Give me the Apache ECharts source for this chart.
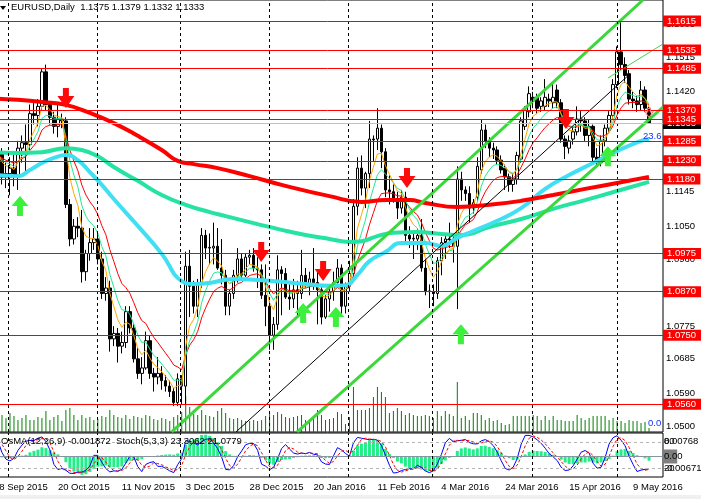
<!DOCTYPE html>
<html lang="en">
<head>
<meta charset="utf-8">
<title>EURUSD,Daily</title>
<script src="https://cdn.jsdelivr.net/npm/echarts@6/dist/echarts.min.js"></script>
<style>
    html, body { margin: 0; padding: 0; background: #fff; overflow: hidden; }
    /* the first bars sit half off the left edge, as in the terminal */
    #chart { width: 709px; height: 499px; margin-left: -8px; }
</style>
</head>
<body>
<div id="chart"></div>
<script>
// ---- data ----
var dateTicks = ['28 Sep 2015', '20 Oct 2015', '11 Nov 2015', '3 Dec 2015', '28 Dec 2015', '20 Jan 2016',
    '11 Feb 2016', '4 Mar 2016', '24 Mar 2016', '15 Apr 2016', '9 May 2016'];
var tickStep = 16;      // one date label every 16 bars
var slotCount = 168;    // bars + empty shift on the right

var priceTicks = [1.0500, 1.0590, 1.0685, 1.0775, 1.0960, 1.1050, 1.1145, 1.1420, 1.1515, 1.1605];
var levels = [1.1615, 1.1535, 1.1485, 1.1370, 1.1345, 1.1285, 1.1230, 1.1180, 1.0975, 1.0870, 1.0750, 1.0560];
var lastPrice = 1.1333;

// daily bars: [open, close, low, high]
var ohlc = [
    [1.1195, 1.1245, 1.1185, 1.1255], [1.1245, 1.1255, 1.1215, 1.1275], [1.1255, 1.1185, 1.1165, 1.1265],
    [1.1185, 1.1195, 1.1155, 1.1225], [1.1195, 1.1210, 1.1135, 1.1240], [1.1210, 1.1190, 1.1160, 1.1250],
    [1.1190, 1.1265, 1.1150, 1.1285], [1.1265, 1.1280, 1.1225, 1.1300], [1.1280, 1.1275, 1.1200, 1.1330],
    [1.1275, 1.1360, 1.1260, 1.1385], [1.1360, 1.1355, 1.1330, 1.1390], [1.1355, 1.1380, 1.1325, 1.1400],
    [1.1380, 1.1475, 1.1370, 1.1485], [1.1475, 1.1385, 1.1370, 1.1495], [1.1385, 1.1350, 1.1330, 1.1390],
    [1.1350, 1.1325, 1.1305, 1.1365], [1.1325, 1.1345, 1.1295, 1.1385], [1.1345, 1.1340, 1.1320, 1.1360],
    [1.1340, 1.1110, 1.1100, 1.1350], [1.1110, 1.1015, 1.0995, 1.1125], [1.1015, 1.1050, 1.1000, 1.1070],
    [1.1050, 1.1045, 1.1020, 1.1075], [1.1045, 1.0925, 1.0895, 1.1095], [1.0925, 1.0975, 1.0900, 1.0985],
    [1.0975, 1.1005, 1.0955, 1.1045], [1.1005, 1.1015, 1.0985, 1.1045], [1.1015, 1.0960, 1.0945, 1.1030],
    [1.0960, 1.0865, 1.0850, 1.0980], [1.0865, 1.0880, 1.0845, 1.0910], [1.0880, 1.0740, 1.0705, 1.0900],
    [1.0740, 1.0755, 1.0720, 1.0775], [1.0755, 1.0720, 1.0675, 1.0770], [1.0720, 1.0730, 1.0700, 1.0760],
    [1.0730, 1.0815, 1.0715, 1.0830], [1.0815, 1.0770, 1.0755, 1.0830], [1.0770, 1.0685, 1.0675, 1.0780],
    [1.0685, 1.0645, 1.0630, 1.0715], [1.0645, 1.0660, 1.0615, 1.0690], [1.0660, 1.0735, 1.0655, 1.0760],
    [1.0735, 1.0645, 1.0630, 1.0750], [1.0645, 1.0635, 1.0595, 1.0660], [1.0635, 1.0645, 1.0615, 1.0690],
    [1.0645, 1.0625, 1.0600, 1.0665], [1.0625, 1.0610, 1.0595, 1.0640], [1.0610, 1.0595, 1.0580, 1.0625],
    [1.0595, 1.0565, 1.0555, 1.0605], [1.0565, 1.0630, 1.0555, 1.0645], [1.0630, 1.0610, 1.0560, 1.0640],
    [1.0610, 1.0940, 1.0560, 1.0980], [1.0940, 1.0885, 1.0800, 1.0985], [1.0885, 1.0830, 1.0810, 1.0900],
    [1.0830, 1.0895, 1.0800, 1.0905], [1.0895, 1.1025, 1.0880, 1.1045], [1.1025, 1.0990, 1.0960, 1.1040],
    [1.0990, 1.0992, 1.0945, 1.1030], [1.0990, 1.0995, 1.0945, 1.1060], [1.0995, 1.0935, 1.0930, 1.1045],
    [1.0935, 1.0915, 1.0890, 1.1015], [1.0915, 1.0830, 1.0805, 1.0930], [1.0830, 1.0865, 1.0805, 1.0875],
    [1.0865, 1.0915, 1.0850, 1.0930], [1.0915, 1.0960, 1.0895, 1.0990], [1.0960, 1.0915, 1.0900, 1.0975],
    [1.0915, 1.0965, 1.0910, 1.0975], [1.0965, 1.0970, 1.0945, 1.0985], [1.0970, 1.0935, 1.0925, 1.0990],
    [1.0935, 1.0930, 1.0880, 1.0965], [1.0930, 1.0860, 1.0850, 1.0945], [1.0860, 1.0830, 1.0775, 1.0945],
    [1.0830, 1.0750, 1.0710, 1.0845], [1.0750, 1.0780, 1.0710, 1.0800], [1.0780, 1.0930, 1.0765, 1.0970],
    [1.0930, 1.0920, 1.0805, 1.0940], [1.0920, 1.0855, 1.0850, 1.0935], [1.0855, 1.0850, 1.0820, 1.0890],
    [1.0850, 1.0875, 1.0825, 1.0905], [1.0875, 1.0865, 1.0800, 1.0900], [1.0865, 1.0915, 1.0850, 1.0985],
    [1.0915, 1.0890, 1.0880, 1.0935], [1.0890, 1.0905, 1.0860, 1.0925], [1.0905, 1.0895, 1.0875, 1.0990],
    [1.0895, 1.0875, 1.0780, 1.0930], [1.0875, 1.0800, 1.0780, 1.0885], [1.0800, 1.0850, 1.0795, 1.0860],
    [1.0850, 1.0870, 1.0815, 1.0880], [1.0870, 1.0895, 1.0845, 1.0925], [1.0895, 1.0935, 1.0880, 1.0960],
    [1.0935, 1.0830, 1.0810, 1.0945], [1.0830, 1.0885, 1.0810, 1.0895], [1.0885, 1.0920, 1.0870, 1.0955],
    [1.0920, 1.1105, 1.0910, 1.1125], [1.1105, 1.1210, 1.1080, 1.1240], [1.1210, 1.1155, 1.1135, 1.1245],
    [1.1155, 1.1195, 1.1100, 1.1200], [1.1195, 1.1290, 1.1155, 1.1340], [1.1290, 1.1288, 1.1230, 1.1300],
    [1.1290, 1.1320, 1.1260, 1.1375], [1.1320, 1.1255, 1.1210, 1.1330], [1.1255, 1.1150, 1.1130, 1.1265],
    [1.1150, 1.1145, 1.1110, 1.1190], [1.1145, 1.1125, 1.1115, 1.1165], [1.1125, 1.1100, 1.1070, 1.1145],
    [1.1100, 1.1130, 1.1085, 1.1150], [1.1130, 1.1025, 1.1005, 1.1145], [1.1025, 1.1015, 1.0990, 1.1050],
    [1.1015, 1.1017, 1.0960, 1.1035], [1.1015, 1.1025, 1.0985, 1.1045], [1.1025, 1.0935, 1.0925, 1.1070],
    [1.0935, 1.0870, 1.0860, 1.0960], [1.0870, 1.0872, 1.0825, 1.0890], [1.0870, 1.0865, 1.0830, 1.0890],
    [1.0865, 1.0955, 1.0850, 1.0965], [1.0955, 1.1005, 1.0915, 1.1020], [1.1005, 1.1015, 1.0960, 1.1030],
    [1.1015, 1.1013, 1.0990, 1.1060], [1.1015, 1.0995, 1.0950, 1.1030], [1.0995, 1.1180, 1.0822, 1.1215],
    [1.1180, 1.1150, 1.1120, 1.1200], [1.1150, 1.1140, 1.1120, 1.1160], [1.1140, 1.1100, 1.1060, 1.1160],
    [1.1100, 1.1115, 1.1085, 1.1125], [1.1130, 1.1215, 1.1120, 1.1240], [1.1205, 1.1315, 1.1195, 1.1343],
    [1.1315, 1.1285, 1.1265, 1.1330], [1.1285, 1.1265, 1.1240, 1.1295], [1.1265, 1.1260, 1.1235, 1.1280],
    [1.1260, 1.1232, 1.1220, 1.1270], [1.1232, 1.1205, 1.1195, 1.1245], [1.1210, 1.1186, 1.1150, 1.1220],
    [1.1186, 1.1165, 1.1145, 1.1195], [1.1165, 1.1180, 1.1145, 1.1195], [1.1180, 1.1245, 1.1165, 1.1255],
    [1.1235, 1.1340, 1.1225, 1.1350], [1.1325, 1.1370, 1.1315, 1.1380], [1.1365, 1.1415, 1.1350, 1.1435],
    [1.1405, 1.1395, 1.1375, 1.1420], [1.1405, 1.1375, 1.1360, 1.1415], [1.1380, 1.1395, 1.1365, 1.1405],
    [1.1380, 1.1405, 1.1370, 1.1455], [1.1400, 1.1395, 1.1378, 1.1415], [1.1390, 1.1405, 1.1375, 1.1447],
    [1.1425, 1.1390, 1.1375, 1.1440], [1.1390, 1.1290, 1.1280, 1.1400], [1.1290, 1.1270, 1.1235, 1.1300],
    [1.1265, 1.1285, 1.1250, 1.1300], [1.1290, 1.1310, 1.1275, 1.1325], [1.1310, 1.1345, 1.1300, 1.1380],
    [1.1345, 1.1340, 1.1310, 1.1370], [1.1340, 1.1300, 1.1285, 1.1350], [1.1300, 1.1325, 1.1270, 1.1345],
    [1.1325, 1.1240, 1.1220, 1.1330], [1.1240, 1.1225, 1.1215, 1.1265], [1.1225, 1.1285, 1.1215, 1.1300],
    [1.1285, 1.1320, 1.1270, 1.1330], [1.1320, 1.1355, 1.1305, 1.1370], [1.1355, 1.1440, 1.1345, 1.1455],
    [1.1440, 1.1530, 1.1430, 1.1545], [1.1530, 1.1495, 1.1480, 1.1615], [1.1495, 1.1465, 1.1445, 1.1515],
    [1.1470, 1.1400, 1.1385, 1.1480], [1.1400, 1.1395, 1.1375, 1.1420], [1.1395, 1.1385, 1.1365, 1.1410],
    [1.1385, 1.1425, 1.1370, 1.1450], [1.1425, 1.1375, 1.1365, 1.1435], [1.1375, 1.1333, 1.1332, 1.1379]
];

// tick volume, thousands
var volumes = [160, 150, 170, 140, 190, 160, 120, 140, 170, 120, 120, 150, 140, 210, 120, 150, 170, 110, 220, 240,
    170, 120, 170, 140, 150, 120, 130, 160, 150, 220, 170, 150, 140, 170, 130, 160, 150, 140, 170, 160,
    130, 120, 140, 130, 110, 150, 170, 200, 360, 250, 180, 170, 220, 170, 160, 150, 210, 240, 190, 140,
    130, 140, 120, 110, 110, 120, 110, 120, 160, 190, 170, 200, 180, 150, 140, 150, 160, 170, 120, 130,
    140, 220, 170, 120, 130, 140, 200, 180, 80, 150, 450, 220, 220, 220, 240, 350, 450, 400, 350, 190,
    210, 240, 210, 170, 190, 170, 160, 160, 170, 160, 140, 210, 160, 210, 180, 160, 500, 140, 160, 120,
    190, 190, 170, 120, 140, 110, 120, 90, 70, 80, 160, 160, 160, 160, 160, 170, 160, 120, 160, 120,
    160, 120, 120, 110, 110, 110, 170, 140, 120, 140, 160, 160, 160, 160, 120, 140, 110, 110, 90, 120,
    110, 110, 90, 100, 40];

// long moving averages, read at sample bars: [bar, price]
var ma200 = [[0, 1.1402], [6, 1.1398], [12, 1.1392], [18, 1.1384], [24, 1.1362], [30, 1.1334], [36, 1.1299],
    [42, 1.1260], [46, 1.1230], [50, 1.1221], [56, 1.1210], [64, 1.1188], [72, 1.1164], [84, 1.1133],
    [92, 1.1117], [98, 1.1122], [104, 1.1122], [108, 1.1114], [116, 1.1103], [124, 1.1109], [132, 1.1120],
    [140, 1.1136], [148, 1.1153], [156, 1.1169], [164, 1.1186]];
var ma50 = [[0, 1.1191], [6, 1.1188], [9, 1.1205], [12, 1.1224], [15, 1.1238], [18, 1.1246], [21, 1.1232],
    [24, 1.1199], [27, 1.1164], [30, 1.1125], [36, 1.1051], [42, 1.0974], [47, 1.0899], [50, 1.0891],
    [54, 1.0894], [60, 1.0905], [66, 1.0902], [72, 1.0897], [78, 1.0891], [84, 1.0886], [88, 1.0888],
    [91, 1.0916], [94, 1.0954], [98, 1.0979], [102, 1.1004], [108, 1.1004], [112, 1.0996], [116, 1.1018],
    [120, 1.1037], [126, 1.1065], [132, 1.1100], [138, 1.1153], [144, 1.1191], [150, 1.1224], [156, 1.1257],
    [162, 1.1285], [164, 1.1290]];
var ma144 = [[0, 1.1254], [6, 1.1252], [12, 1.1254], [18, 1.1265], [22, 1.1260], [26, 1.1243], [30, 1.1213],
    [36, 1.1175], [42, 1.1136], [48, 1.1109], [54, 1.1089], [58, 1.1078], [66, 1.1056], [72, 1.1040],
    [78, 1.1026], [84, 1.1015], [89, 1.1007], [92, 1.1009], [96, 1.1023], [100, 1.1032], [106, 1.1034],
    [112, 1.1029], [117, 1.1026], [124, 1.1048], [132, 1.1070], [140, 1.1098], [148, 1.1122], [156, 1.1147],
    [164, 1.1172]];

// hand-drawn objects: [bar, price]
var channelUpper = [[44.5, 1.0484], [162.5, 1.1673]];
var channelLower = [[75.9, 1.0484], [167.5, 1.1378]];
var midLine = [[60.6, 1.0484], [159.2, 1.1469]];
var midLineGreen = [[153.7, 1.1458], [167.25, 1.1550]];
var sellArrows = [[18, 1.1403], [66.9, 1.0979], [82.4, 1.0927], [103.4, 1.1183], [143.2, 1.1345]];
var buyArrows = [[6.5, 1.1106], [77.4, 1.0811], [85.6, 1.0800], [116.9, 1.0753], [153.7, 1.1243]];
var pendingArrow = [[164, 1.1362]];
var monthLines = [3.5, 25.8, 46.6, 68.9, 88.6, 109.7, 134.7, 156.0];

// ---- indicators computed from the bars, as the terminal does ----
var closes = ohlc.map(function (r) { return r[1]; });
var lows = ohlc.map(function (r) { return r[2]; });
var highs = ohlc.map(function (r) { return r[3]; });

function ema(src, n) {
    var a = 2 / (n + 1), out = [], prev = src[0];
    src.forEach(function (v, i) {
        prev = i ? prev + a * (v - prev) : v;
        out.push(+prev.toFixed(5));
    });
    return out;
}
function sma(src, n) {
    return src.map(function (_, i) {
        var s = src.slice(Math.max(0, i - n + 1), i + 1);
        return s.reduce(function (a, b) { return a + b; }, 0) / s.length;
    });
}
function sum(a) { return a.reduce(function (x, y) { return x + y; }, 0); }

var ema5 = ema(closes, 5), ema8 = ema(closes, 8), ema13 = ema(closes, 13);
var e12 = ema(closes, 12), e26 = ema(closes, 26);
var macd = e12.map(function (v, i) { return v - e26[i]; });
var macdSignal = sma(macd, 9);
var osma = macd.map(function (v, i) { return +(v - macdSignal[i]).toFixed(6); });

var stNum = [], stDen = [];
closes.forEach(function (c, i) {
    var lo = Math.min.apply(null, lows.slice(Math.max(0, i - 4), i + 1));
    var hi = Math.max.apply(null, highs.slice(Math.max(0, i - 4), i + 1));
    stNum.push(c - lo);
    stDen.push(hi - lo);
});
var stochK = closes.map(function (_, i) {
    var a = Math.max(0, i - 2);
    var d = sum(stDen.slice(a, i + 1));
    return d ? +(100 * sum(stNum.slice(a, i + 1)) / d).toFixed(2) : 50;
});
var stochD = sma(stochK, 3).map(function (v) { return +v.toFixed(2); });

// ---- chart ----
var FONT = '"Liberation Sans", Arial, sans-serif';
var X0 = 8;   // the canvas starts 8px left of the page
var cats = [];
for (var i = 0; i < slotCount; i++) cats.push(String(i));
var offside = [[-5, 1.1]];   // keeps helper series non-empty; lies outside the plot

var downPath = 'path://M5.5,0L11.5,0L11.5,8L17,8L8.5,20L0,8L5.5,8Z';
var upPath = 'path://M8.5,0L17,10L11.5,10L11.5,20L5.5,20L5.5,10L0,10Z';

function trend(data, color, width) {
    return {
        type: 'line', xAxisIndex: 1, yAxisIndex: 0, data: data, showSymbol: false, silent: true, z: 4,
        lineStyle: { color: color, width: width }
    };
}
function maLine(data, color) {
    return {
        type: 'line', xAxisIndex: 1, yAxisIndex: 0, data: data, smooth: true, showSymbol: false, silent: true, z: 3,
        lineStyle: { color: color, width: 4 }
    };
}
function fastLine(data, color) {
    return {
        type: 'line', xAxisIndex: 0, yAxisIndex: 0, data: data, showSymbol: false, silent: true, z: 3,
        lineStyle: { color: color, width: 1 }
    };
}

// bid line first (so the red boxes overlap its box), then the red levels
var levelMarks = [{
    yAxis: lastPrice,
    lineStyle: { color: '#c0c0c0', width: 1, type: 'solid' },
    label: { formatter: lastPrice.toFixed(4), backgroundColor: '#000' }
}].concat(levels.map(function (v) { return { yAxis: v, label: { formatter: v.toFixed(4) } }; }));

var option = {
    animation: false,
    backgroundColor: '#fff',
    textStyle: { fontFamily: FONT },
    grid: [
        { left: 0, right: 38, top: 0, height: 432, show: true, borderColor: '#000', borderWidth: 1, outerBoundsMode: 'none' },
        { left: 0, right: 38, top: 433, height: 44, show: true, borderColor: '#000', borderWidth: 1, outerBoundsMode: 'none' }
    ],
    xAxis: [
        { type: 'category', gridIndex: 0, data: cats, axisLine: { show: false }, axisTick: { show: false }, axisLabel: { show: false } },
        { type: 'value', gridIndex: 0, min: -0.5, max: slotCount - 0.5, show: false },
        {
            type: 'category', gridIndex: 1, data: cats, axisLine: { show: false }, axisTick: { show: false },
            axisLabel: {
                interval: function (idx) { return idx % tickStep === 0 && idx / tickStep < dateTicks.length; },
                formatter: function (v, idx) { return dateTicks[idx / tickStep] || ''; },
                align: 'left', margin: 5, color: '#000', fontSize: 9.5, fontFamily: FONT,
                hideOverlap: false, showMinLabel: true
            }
        },
        { type: 'value', gridIndex: 1, min: -0.5, max: slotCount - 0.5, show: false }
    ],
    yAxis: [
        {
            type: 'value', gridIndex: 0, position: 'right', min: 1.04837, max: 1.16728, splitLine: { show: false },
            axisLine: { show: true, lineStyle: { color: '#000' } },
            axisTick: { show: true, customValues: priceTicks, length: 3, lineStyle: { color: '#000' } },
            axisLabel: {
                customValues: priceTicks, formatter: function (v) { return v.toFixed(4); },
                color: '#000', fontSize: 9.5, fontFamily: FONT, margin: 3
            }
        },
        { type: 'value', gridIndex: 0, min: 0, max: 4320, show: false },
        { type: 'value', gridIndex: 1, min: -0.00671, max: 0.00768, show: false },
        { type: 'value', gridIndex: 1, min: 0, max: 100, show: false }
    ],
    graphic: [
        { type: 'polygon', shape: { points: [[X0, 6], [X0 + 6, 6], [X0 + 3, 10]] }, style: { fill: '#000' } },
        { type: 'text', left: X0 + 11, top: 2, style: { text: 'EURUSD,Daily  1.1375 1.1379 1.1332 1.1333', fill: '#000', fontSize: 9.5, fontFamily: FONT } },
        { type: 'text', left: X0 + 1, top: 436, z: 10, style: { text: 'OsMA(12,26,9) -0.001872  Stoch(5,3,3) 23.3062 21.0779', fill: '#000', fontSize: 9.5, fontFamily: FONT } },
        { type: 'text', left: X0 + 643, top: 131, z: 10, style: { text: '23.6', fill: '#1030ff', fontSize: 9.5, fontFamily: FONT } },
        { type: 'text', left: X0 + 648, top: 418, z: 10, style: { text: '0.0', fill: '#1030ff', fontSize: 9.5, fontFamily: FONT } },
        { type: 'rect', shape: { x: 0, y: 495, width: 709, height: 4 }, style: { fill: '#f0f0f0' } }
    ],
    series: [
        {
            name: 'Volumes', type: 'bar', xAxisIndex: 0, yAxisIndex: 1, data: volumes, barWidth: 1, silent: true, z: 1,
            itemStyle: { color: '#008000' }
        },
        {
            name: 'month grid', type: 'line', xAxisIndex: 1, yAxisIndex: 0, data: offside, showSymbol: false, z: 1,
            markLine: {
                symbol: 'none', silent: true, precision: 5, label: { show: false },
                lineStyle: { color: '#000', width: 1, type: [3, 3] },
                data: monthLines.map(function (v) { return { xAxis: v }; })
            }
        },
        {
            name: 'EURUSD', type: 'candlestick', xAxisIndex: 0, yAxisIndex: 0, data: ohlc, barWidth: 3, silent: true, z: 2,
            itemStyle: { color: '#fff', color0: '#000', borderColor: '#000', borderColor0: '#000', borderWidth: 1 }
        },
        fastLine(ema13, '#ff0000'),
        fastLine(ema8, '#22e890'),
        fastLine(ema5, '#ffa500'),
        maLine(ma144, '#25e3a0'),
        maLine(ma50, '#40e0f2'),
        maLine(ma200, '#ff0000'),
        trend(channelUpper, '#3ad83a', 3),
        trend(channelLower, '#3ad83a', 3),
        trend(midLine, '#000', 1),
        trend(midLineGreen, '#3ad83a', 1),
        {
            name: 'levels', type: 'line', xAxisIndex: 1, yAxisIndex: 0, data: offside, showSymbol: false, z: 5,
            markLine: {
                symbol: 'none', silent: true, precision: 5,
                lineStyle: { color: '#ff0000', width: 1, type: 'solid' },
                label: {
                    position: 'end', distance: 0, padding: [0, 5, 0, 4], fontSize: 9.5, fontFamily: FONT,
                    lineHeight: 11, color: '#fff', backgroundColor: '#ff0000'
                },
                data: levelMarks
            }
        },
        {
            name: 'sell', type: 'scatter', xAxisIndex: 1, yAxisIndex: 0, data: sellArrows, symbol: downPath,
            symbolSize: [17, 20], silent: true, z: 6, itemStyle: { color: '#ff0a0a', opacity: 1 }
        },
        {
            name: 'buy', type: 'scatter', xAxisIndex: 1, yAxisIndex: 0, data: buyArrows, symbol: upPath,
            symbolSize: [17, 20], silent: true, z: 6, itemStyle: { color: '#3cf03c', opacity: 1 }
        },
        {
            name: 'pending', type: 'scatter', xAxisIndex: 1, yAxisIndex: 0, data: pendingArrow, symbol: downPath,
            symbolSize: [8, 9], silent: true, z: 6, itemStyle: { color: 'rgba(255,255,255,0)', borderColor: '#ff8080', borderWidth: 1, opacity: 1 }
        },
        {
            name: 'OsMA', type: 'bar', xAxisIndex: 2, yAxisIndex: 2, data: osma, barWidth: 3, silent: true, z: 2,
            itemStyle: { color: '#22ee88' },
            markLine: {
                symbol: 'none', silent: true, precision: 5,
                lineStyle: { color: '#8793a0', width: 1, type: 'solid' },
                label: {
                    position: 'end', distance: 0, fontSize: 9.5, fontFamily: FONT, color: '#000',
                    formatter: '{g|0.0}0',
                    rich: { g: { backgroundColor: '#7f7f7f', color: '#000', fontSize: 9.5, fontFamily: FONT, padding: [2, 0, 2, 1] } }
                },
                data: [{ yAxis: 0 }]
            }
        },
        {
            name: 'Stoch main', type: 'line', xAxisIndex: 2, yAxisIndex: 3, data: stochK, showSymbol: false, silent: true, z: 3,
            lineStyle: { color: '#0000ff', width: 1 },
            markLine: {
                symbol: 'none', silent: true, precision: 5,
                lineStyle: { color: '#b4b4b4', width: 1, type: [3, 3] },
                label: { position: 'end', distance: 1, color: '#000', fontSize: 9.5, fontFamily: FONT },
                data: [
                    { yAxis: 80, label: { formatter: '0.00768' } },
                    { yAxis: 20, label: { formatter: '-0.00671' } },
                    { yAxis: 80, label: { formatter: '80' } },
                    { yAxis: 20, label: { formatter: '20' } }
                ]
            }
        },
        {
            name: 'Stoch signal', type: 'line', xAxisIndex: 2, yAxisIndex: 3, data: stochD, showSymbol: false, silent: true, z: 3,
            lineStyle: { color: '#ff0000', width: 1, type: [3, 2] }
        },
        {
            name: 'month grid 2', type: 'line', xAxisIndex: 3, yAxisIndex: 2, data: [[-5, 0]], showSymbol: false, z: 1,
            markLine: {
                symbol: 'none', silent: true, precision: 5, label: { show: false },
                lineStyle: { color: '#000', width: 1, type: [3, 3] },
                data: monthLines.map(function (v) { return { xAxis: v }; })
            }
        }
    ]
};

var chart = echarts.init(document.getElementById('chart'), null, { renderer: 'canvas' });
chart.setOption(option);
</script>
</body>
</html>
